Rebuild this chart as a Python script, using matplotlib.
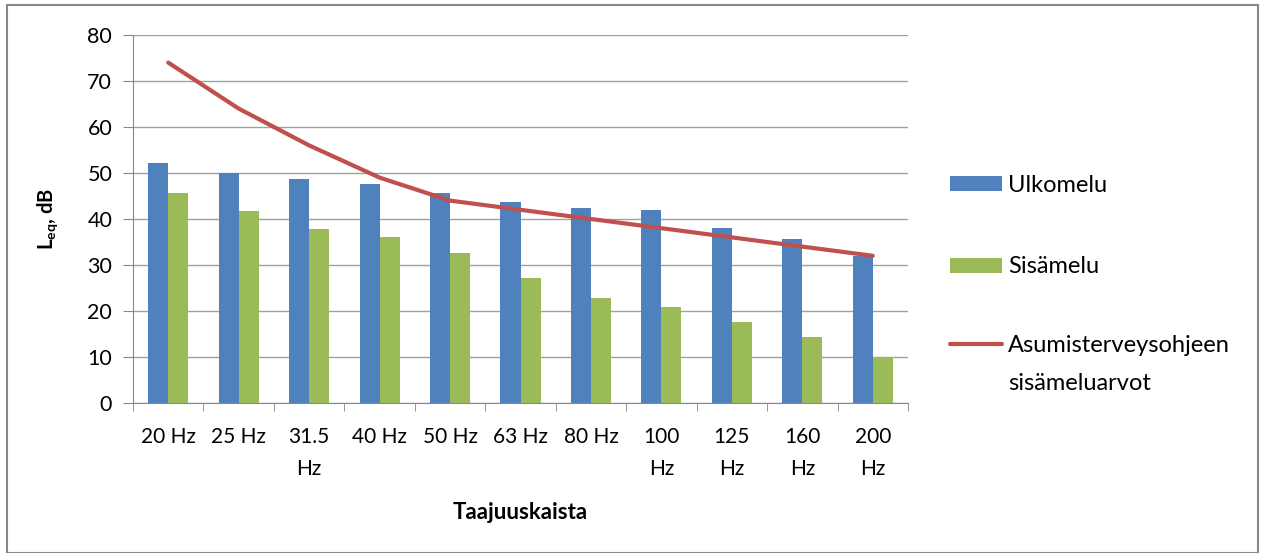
import matplotlib
matplotlib.use("Agg")
import matplotlib.pyplot as plt
from matplotlib.lines import Line2D
import numpy as np
from matplotlib.patches import Rectangle

# Taajuuskaistat ja mitatut tasot (dB)
kaistat = ["20 Hz", "25 Hz", "31.5\nHz", "40 Hz", "50 Hz", "63 Hz", "80 Hz",
           "100\nHz", "125\nHz", "160\nHz", "200\nHz"]
ulkomelu = [52.2, 50.0, 48.6, 47.5, 45.6, 43.8, 42.3, 42.0, 38.0, 35.6, 32.0]
sisamelu = [45.6, 41.7, 37.8, 36.1, 32.5, 27.2, 22.8, 20.8, 17.7, 14.3, 9.9]
ohjearvot = [74, 64, 56, 49, 44, 42, 40, 38, 36, 34, 32]

plt.rcParams['font.family'] = ['Lato', 'DejaVu Sans']
plt.rcParams['mathtext.fontset'] = 'custom'
plt.rcParams['mathtext.rm'] = 'Lato'
plt.rcParams['mathtext.bf'] = 'Lato:bold'

W, H = 1265, 553
fig = plt.figure(figsize=(W/100, H/100), dpi=100)
ax = fig.add_axes([133/W, 1 - 403/H, 775/W, 368/H])

x = np.arange(len(kaistat))
w = 0.285
b1 = ax.bar(x - w/2, ulkomelu, w, color='#4F81BD', zorder=2)
b2 = ax.bar(x + w/2, sisamelu, w, color='#9BBB59', zorder=2)
l1, = ax.plot(x, ohjearvot, color='#C0504D', lw=3, zorder=3, solid_capstyle='round')

ax.set_xlim(-0.5, len(kaistat) - 0.5)
ax.set_ylim(0, 80)
ax.set_yticks(range(0, 81, 10))
ax.yaxis.grid(True, color='#A0A0A0', lw=1)
ax.set_axisbelow(True)
ax.set_xticks(x)
ax.set_xticklabels(kaistat, fontsize=15, linespacing=1.8, va='top')
ax.set_xticks(np.arange(-0.5, len(kaistat)), minor=True)
ax.tick_params(axis='x', which='major', length=0, pad=17)
ax.tick_params(axis='x', which='minor', length=6, color='#888888')
ax.tick_params(axis='y', length=7, color='#888888', labelsize=15.5, pad=8)
for s in ['top', 'right']:
    ax.spines[s].set_visible(False)
for s in ['left', 'bottom']:
    ax.spines[s].set_color('#888888')

ax.set_ylabel(r'$\mathbf{L_{eq}}$, dB', fontsize=14.5, fontweight='bold', labelpad=20)
ax.set_xlabel('Taajuuskaista', fontsize=16, fontweight='bold', labelpad=16)

# selite: kolme erillistä osaa, jotta väli vastaa kuvaa
opts = dict(frameon=False, fontsize=17, handlelength=2.2, handleheight=0.6,
            handletextpad=0.25, borderpad=0, borderaxespad=0)
leg1 = fig.legend([b1], ['Ulkomelu'], loc='center left',
                  bbox_to_anchor=(950/W, 1 - 185/H), **opts)
leg2 = fig.legend([b2], ['Sisämelu'], loc='center left',
                  bbox_to_anchor=(950/W, 1 - 267/H), **opts)
tyhja = Line2D([], [], linestyle='none')
leg3 = fig.legend([l1, tyhja], ['Asumisterveysohjeen', 'sisämeluarvot'], loc='upper left',
                  bbox_to_anchor=(950/W, 1 - 335/H), labelspacing=0.7, **opts)

fig.patches.append(Rectangle((7/W, 0), 1251/W, 1 - 5/H, transform=fig.transFigure,
                             fill=False, edgecolor='#888888', lw=1.5))

fig.savefig('out.png', dpi=100)
